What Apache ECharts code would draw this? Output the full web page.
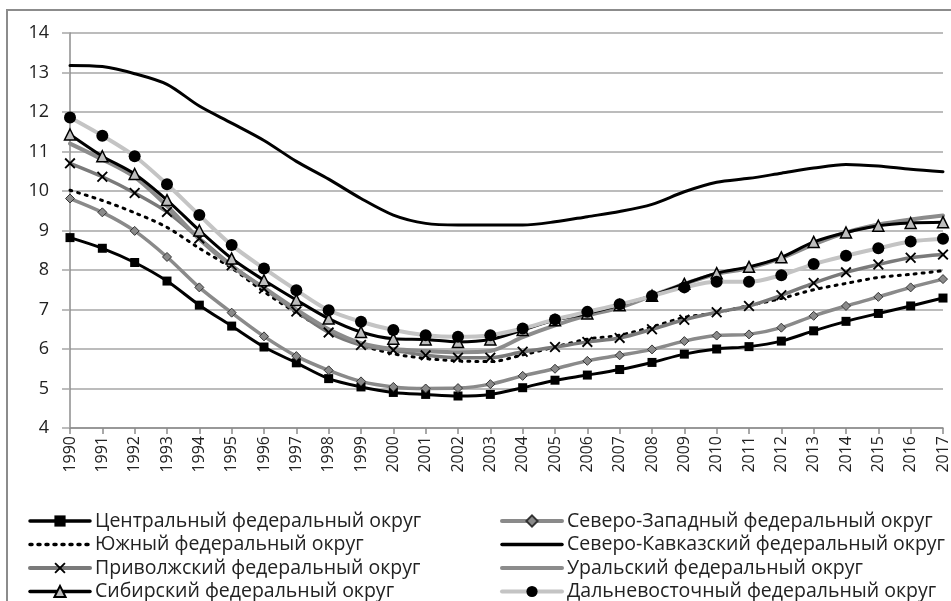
<!DOCTYPE html>
<html><head><meta charset="utf-8">
<script src="https://cdn.jsdelivr.net/npm/echarts@6/dist/echarts.min.js"></script>
<style>html,body{margin:0;padding:0;background:#fff}#c{width:951px;height:601px}</style>
</head><body><div id="c"></div>
<script>
const years = ['1990','1991','1992','1993','1994','1995','1996','1997','1998','1999','2000','2001','2002','2003','2004','2005','2006','2007','2008','2009','2010','2011','2012','2013','2014','2015','2016','2017'];
const yTicks = [4,5,6,7,8,9,10,11,12,13,14];
const seriesNames = ['Центральный федеральный округ','Северо-Западный федеральный округ','Южный федеральный округ','Северо-Кавказский федеральный округ','Приволжский федеральный округ','Уральский федеральный округ','Сибирский федеральный округ','Дальневосточный федеральный округ'];
const central = [8.82,8.55,8.19,7.72,7.11,6.58,6.05,5.65,5.25,5.04,4.90,4.85,4.81,4.85,5.02,5.21,5.34,5.48,5.66,5.87,6.00,6.06,6.20,6.46,6.70,6.90,7.09,7.29];
const northWest = [9.81,9.46,8.99,8.33,7.56,6.92,6.32,5.82,5.46,5.18,5.04,5.00,5.01,5.11,5.32,5.50,5.70,5.84,5.99,6.20,6.34,6.37,6.54,6.84,7.09,7.32,7.56,7.77];
const southern = [10.02,9.76,9.45,9.08,8.55,8.05,7.45,6.92,6.45,6.10,5.88,5.76,5.70,5.68,5.85,6.05,6.25,6.35,6.56,6.80,6.92,7.10,7.28,7.50,7.66,7.81,7.89,7.98];
const northCaucasus = [13.18,13.15,12.97,12.70,12.15,11.72,11.28,10.75,10.30,9.81,9.39,9.18,9.14,9.14,9.14,9.22,9.35,9.48,9.66,9.98,10.22,10.32,10.45,10.58,10.67,10.63,10.55,10.49];
const volga = [10.70,10.36,9.95,9.47,8.80,8.12,7.53,6.95,6.42,6.10,5.97,5.84,5.78,5.78,5.93,6.05,6.18,6.28,6.50,6.74,6.93,7.09,7.36,7.67,7.94,8.14,8.31,8.39];
const ural = [11.20,10.80,10.35,9.62,8.78,8.10,7.55,7.00,6.50,6.15,6.00,5.95,5.92,5.95,6.30,6.60,6.85,7.05,7.35,7.65,7.90,8.05,8.30,8.65,8.95,9.15,9.28,9.38];
const siberia = [11.43,10.88,10.43,9.77,9.00,8.29,7.74,7.24,6.77,6.43,6.26,6.24,6.18,6.24,6.48,6.73,6.90,7.11,7.35,7.65,7.92,8.08,8.32,8.71,8.95,9.12,9.19,9.21];
const farEast = [11.86,11.40,10.88,10.17,9.39,8.63,8.04,7.49,6.98,6.69,6.48,6.35,6.31,6.35,6.52,6.75,6.94,7.13,7.34,7.56,7.70,7.70,7.87,8.15,8.36,8.55,8.72,8.79];

const FONT = '"Open Sans", "DejaVu Sans", sans-serif';
const XSYM = 'path://M0,1.2 L1.2,0 L5,3.8 L8.8,0 L10,1.2 L6.2,5 L10,8.8 L8.8,10 L5,6.2 L1.2,10 L0,8.8 L3.8,5 Z';

function mk(name, data, o) {
  const noSym = o.symbol === 'none';
  return {
    name: name, type: 'line', data: data, smooth: 0.3,
    showSymbol: !noSym, symbol: noSym ? 'circle' : o.symbol, symbolSize: noSym ? 0 : (o.size || 8),
    lineStyle: { color: o.color, width: o.width, type: o.type || 'solid', cap: 'round' },
    itemStyle: { color: noSym ? 'rgba(0,0,0,0)' : (o.fill || o.color), borderColor: noSym ? 'rgba(0,0,0,0)' : (o.border || o.color), borderWidth: o.bw || 0 },
    emphasis: { disabled: true }, z: o.z || 2
  };
}

function li(i, w) { return { name: seriesNames[i], lineStyle: { width: w } }; }

const legendText = { fontSize: 19.5, color: '#222', fontFamily: FONT, lineHeight: 20 };
const chart = echarts.init(document.getElementById('c'));
chart.setOption({
  animation: false,
  graphic: [{ type: 'rect', silent: true, z: -10, shape: { x: 7, y: 10, width: 1000, height: 1000 }, style: { fill: 'none', stroke: '#8c8c8c', lineWidth: 2 } }],
  grid: { left: 70, top: 33, right: 3, bottom: 173 },
  xAxis: {
    type: 'category', boundaryGap: false, data: years,
    axisLine: { show: true, lineStyle: { color: '#8c8c8c', width: 1.5 } },
    axisTick: { show: true, length: 6, interval: 0, lineStyle: { color: '#8c8c8c', width: 1.5 } },
    axisLabel: { rotate: 90, interval: 0, fontSize: 16, color: '#222', margin: 8, fontFamily: FONT },
    splitLine: { show: false }
  },
  yAxis: {
    type: 'value', min: yTicks[0], max: yTicks[yTicks.length - 1], interval: 1,
    axisLine: { show: true, lineStyle: { color: '#8c8c8c', width: 1.5 } },
    axisTick: { show: true, length: 8, lineStyle: { color: '#a6a6a6', width: 1.5 } },
    axisLabel: { fontSize: 18, color: '#222', margin: 21, fontFamily: FONT },
    splitLine: { show: true, lineStyle: { color: '#a6a6a6', width: 1.5 } }
  },
  legend: [
    { orient: 'vertical', left: 23, top: 506, height: 140, itemWidth: 60, itemHeight: 14, itemGap: 3.5,
      textStyle: legendText,
      data: [li(0, 3.5), li(2, 3.5), li(4, 4), li(6, 3.5)] },
    { orient: 'vertical', left: 495, top: 506, height: 140, itemWidth: 60, itemHeight: 14, itemGap: 3.5,
      textStyle: legendText,
      data: [li(1, 4), li(3, 3.5), li(5, 4), li(7, 4)] }
  ],
  series: [
    mk(seriesNames[0], central, { color: '#000', width: 3, symbol: 'rect', size: 9 }),
    mk(seriesNames[1], northWest, { color: '#8a8a8a', width: 3.5, symbol: 'diamond', size: 9, fill: '#8a8a8a', border: '#333', bw: 1 }),
    mk(seriesNames[2], southern, { color: '#000', width: 3, type: [2, 6], symbol: 'none' }),
    mk(seriesNames[3], northCaucasus, { color: '#000', width: 3, symbol: 'none' }),
    mk(seriesNames[4], volga, { color: '#7a7a7a', width: 3.5, symbol: XSYM, size: 11, fill: '#000' }),
    mk(seriesNames[5], ural, { color: '#8c8c8c', width: 4, symbol: 'none' }),
    mk(seriesNames[6], siberia, { color: '#000', width: 3, symbol: 'triangle', size: 11, fill: '#bdbdbd', border: '#000', bw: 1.5 }),
    mk(seriesNames[7], farEast, { color: '#c4c4c4', width: 4, symbol: 'circle', size: 12, fill: '#000' })
  ]
});
</script>
</body></html>
